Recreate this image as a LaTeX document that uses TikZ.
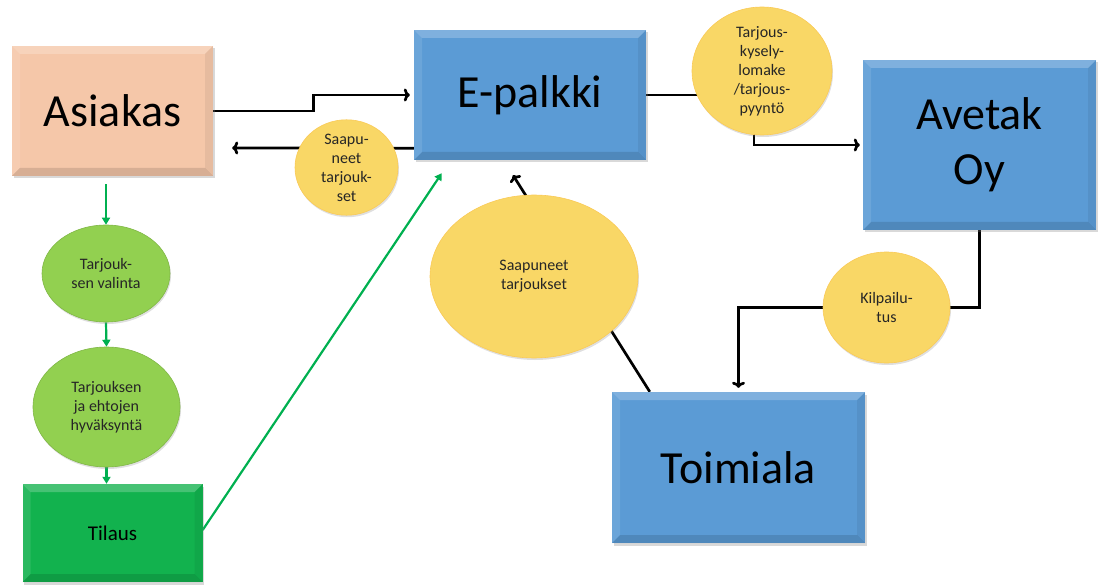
\documentclass[tikz,border=0pt]{standalone}
\usepackage{fontspec}
\setmainfont{Carlito}
\usetikzlibrary{shapes.geometric,arrows.meta,backgrounds,shadows}

\definecolor{peach}{HTML}{F5C7A9}
\definecolor{boxblue}{HTML}{5B9BD5}
\definecolor{ovalyellow}{HTML}{F9D766}
\definecolor{ovalgreen}{HTML}{92D050}
\definecolor{ordergreen}{HTML}{12B24E}
\definecolor{linegreen}{HTML}{00B050}

\tikzset{
    bevel/.style={
        path picture={
            \fill[white,opacity=.22] (path picture bounding box.north west) -- (path picture bounding box.north east)
                -- ([shift={(-8pt,-8pt)}]path picture bounding box.north east) -- ([shift={(8pt,-8pt)}]path picture bounding box.north west) -- cycle;
            \fill[white,opacity=.10] (path picture bounding box.north west) -- (path picture bounding box.south west)
                -- ([shift={(8pt,8pt)}]path picture bounding box.south west) -- ([shift={(8pt,-8pt)}]path picture bounding box.north west) -- cycle;
            \fill[black,opacity=.06] (path picture bounding box.north east) -- (path picture bounding box.south east)
                -- ([shift={(-8pt,8pt)}]path picture bounding box.south east) -- ([shift={(-8pt,-8pt)}]path picture bounding box.north east) -- cycle;
            \fill[black,opacity=.12] (path picture bounding box.south west) -- (path picture bounding box.south east)
                -- ([shift={(-8pt,8pt)}]path picture bounding box.south east) -- ([shift={(8pt,8pt)}]path picture bounding box.south west) -- cycle;
        }
    },
    actor/.style={rectangle,bevel,inner sep=0pt,align=center,
        drop shadow={shadow xshift=1.5pt,shadow yshift=-2.5pt,opacity=.3},
        font=\fontsize{46}{55}\selectfont},
    oval/.style={ellipse,inner sep=0pt,align=center,text=black!85,
        drop shadow={shadow xshift=1pt,shadow yshift=-2pt,opacity=.25},
        font=\fontsize{16}{19}\selectfont},
    yoval/.style={oval,fill=ovalyellow,draw=ovalyellow!85!orange,line width=.6pt},
    goval/.style={oval,fill=ovalgreen,draw=ovalgreen!88!black,line width=.6pt},
    conn/.style={line width=2.7pt,-{To[length=6pt,width=13pt]}},
    line/.style={line width=2.7pt},
    gconn/.style={line width=2.2pt,linegreen,-{Triangle[length=7pt,width=8pt]}}
}

\begin{document}
\begin{tikzpicture}[x=1pt,y=-1pt]
    \useasboundingbox (0,0) rectangle (1103,585);

    % Main actors
    \node[actor,fill=peach,minimum width=201pt,minimum height=130pt] (asiakas) at (112.5,111) {Asiakas};
    \node[actor,fill=boxblue,minimum width=232pt,minimum height=130pt] (epalkki) at (530,95) {E-palkki};
    \node[actor,fill=boxblue,minimum width=233pt,minimum height=170pt] (avetak) at (979.5,145) {Avetak\\Oy};
    \node[actor,fill=boxblue,minimum width=253pt,minimum height=151pt] (toimiala) at (738.5,467.5) {Toimiala};
    \node[actor,fill=ordergreen,minimum width=180pt,minimum height=98pt,font=\fontsize{21}{25}\selectfont] (tilaus) at (112.5,533) {Tilaus};

    % Customer side
    \node[goval,minimum width=128pt,minimum height=97pt] (valinta) at (106,273.5) {Tarjouk-\\sen valinta};
    \node[goval,minimum width=147pt,minimum height=120pt] (hyvaksynta) at (106.5,407) {Tarjouksen\\ja ehtojen\\hyväksyntä};

    % Messages
    \node[yoval,minimum width=103pt,minimum height=79pt] (saapu) at (346.5,167.5) {Saapu-\\neet\\tarjouk-\\set};
    \node[yoval,minimum width=140pt,minimum height=128pt] (tarjous) at (762,71) {Tarjous-\\kysely-\\lomake\\/tarjous-\\pyyntö};
    \node[yoval,minimum width=208pt,minimum height=163pt] (saapuneet) at (534,276.5) {Saapuneet\\tarjoukset};
    \node[yoval,minimum width=127pt,minimum height=111pt] (kilpailu) at (886.5,307.5) {Kilpailu-\\tus};

    % Connectors
    \begin{pgfonlayer}{background}
        \draw[conn,shorten >=4pt] (asiakas.east) -- ++(100,0) |- (epalkki.west);
        \draw[conn] ([shift={(14,-12)}]epalkki.south west) -- ([shift={(19,37)}]asiakas.east);
        \draw[line] (epalkki.east) -- (tarjous.center |- epalkki.east);
        \draw[conn,shorten >=3pt] ([xshift=-8pt]tarjous.center) |- (avetak.west);
        \draw[conn,shorten >=4pt] (avetak.south) |- (kilpailu.center) -| (toimiala.north);
        \draw[conn] ([xshift=38pt]toimiala.north west) -- ([shift={(-17,15)}]epalkki.south);
        \draw[gconn,shorten <=8pt] (valinta.north |- asiakas.south) -- (valinta.north);
        \draw[gconn] (valinta.south) -- (hyvaksynta.north);
        \draw[gconn] ([yshift=18pt]hyvaksynta.south) -- (hyvaksynta.south |- tilaus.north);
        \draw[gconn] ([yshift=3pt]tilaus.east) -- ([shift={(28,13)}]epalkki.south west);
    \end{pgfonlayer}
\end{tikzpicture}
\end{document}
